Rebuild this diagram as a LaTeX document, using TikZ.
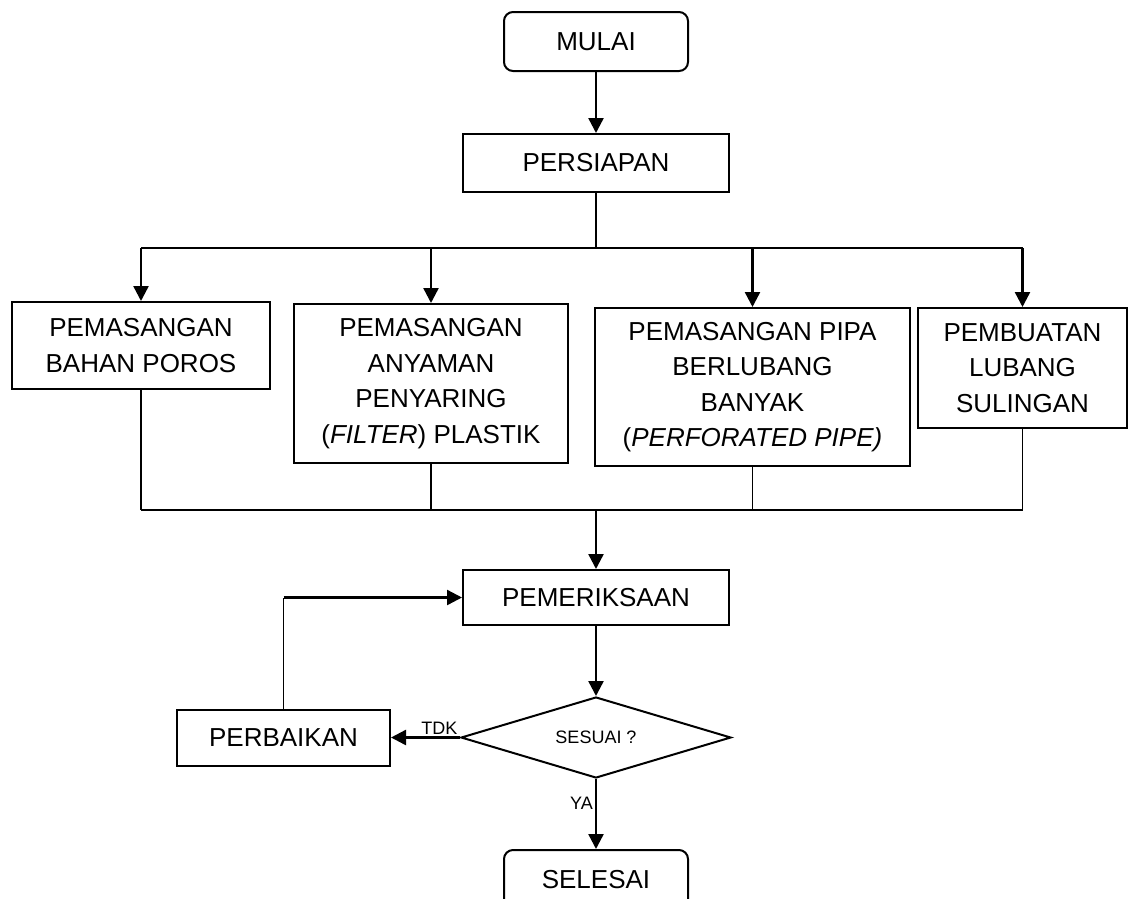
\documentclass[tikz,border=0pt]{standalone}
\usepackage{fontspec}
\setmainfont{Liberation Sans}
\usetikzlibrary{positioning,shapes.geometric,arrows.meta}
\tikzset{
  box/.style={draw, line width=2pt, align=center, inner sep=0pt, font=\fontsize{26}{35.5}\selectfont},
  startstop/.style={box, rounded corners=9pt, minimum width=184pt, minimum height=59pt},
  decision/.style={draw, diamond, line width=2pt, aspect=3.3, inner sep=0pt, minimum width=270pt, minimum height=81pt, font=\fontsize{18}{22}\selectfont},
  flowarrow/.style={line width=2.4pt, -{Triangle[length=15pt,width=15pt]}},
  joinline/.style={line width=1.4pt},
  answer/.style={font=\fontsize{18}{22}\selectfont, inner sep=2pt}
}

\begin{document}
\begin{tikzpicture}[x=1pt, y=-1pt]
            \useasboundingbox (0,0) rectangle (1130,898);
            \node[startstop] (Mulai) at (596,41.5) {MULAI};
            \node[box, on grid, below=121.5pt of Mulai, minimum width=266pt, minimum height=58pt] (Persiapan) {PERSIAPAN};
            \draw[flowarrow] (Mulai) -- (Persiapan);
            % the four parallel jobs
            \node[box, anchor=north, minimum width=258pt, minimum height=87pt] (Poros) at (141,301) {PEMASANGAN\\BAHAN POROS};
            \node[box, anchor=north, minimum width=274pt, minimum height=159pt] (Anyaman) at (431,303) {PEMASANGAN\\ANYAMAN\\PENYARING\\(\textit{FILTER}) PLASTIK};
            \node[box, anchor=north, minimum width=315pt, minimum height=158pt] (Pipa) at (752.5,307) {PEMASANGAN PIPA\\BERLUBANG\\BANYAK\\(\textit{PERFORATED PIPE)}};
            \node[box, anchor=north, minimum width=209pt, minimum height=120pt] (Sulingan) at (1022.5,307) {PEMBUATAN\\LUBANG\\SULINGAN};
            \coordinate (BusTop) at (596,248);
            \coordinate (BusBot) at (596,510);
            \draw[joinline] (Persiapan) -- (BusTop);
            \draw[joinline] (Poros.north |- BusTop) -- (Sulingan.north |- BusTop);
            \draw[joinline] (Poros.south |- BusBot) -- (Sulingan.south |- BusBot);
            \foreach \job in {Poros,Anyaman,Pipa,Sulingan} {
              \draw[flowarrow] (\job.north |- BusTop) -- (\job);
              \draw[joinline] (\job) -- (\job.south |- BusBot);
            }
            % checking loop
            \node[box, minimum width=266pt, minimum height=55pt] (Periksa) at (596,597.5) {PEMERIKSAAN};
            \draw[flowarrow] (BusBot) -- (Periksa);
            \node[decision, on grid, below=140pt of Periksa] (Sesuai) {SESUAI ?};
            \draw[flowarrow] (Periksa) -- (Sesuai);
            \node[box, on grid, left=312.5pt of Sesuai, minimum width=213pt, minimum height=56pt] (Perbaikan) {PERBAIKAN};
            \draw[flowarrow] (Sesuai) -- node[answer, above, pos=0.3] {TDK} (Perbaikan);
            \coordinate (Balik) at (Perbaikan.north |- Periksa.west);
            \draw[joinline] (Perbaikan) -- (Balik);
            \draw[flowarrow] (Balik) -- (Periksa);
            \node[startstop, on grid, below=142pt of Sesuai] (Selesai) {SELESAI};
            \draw[flowarrow] (Sesuai) -- node[answer, left, pos=0.35] {YA} (Selesai);
\end{tikzpicture}
\end{document}
